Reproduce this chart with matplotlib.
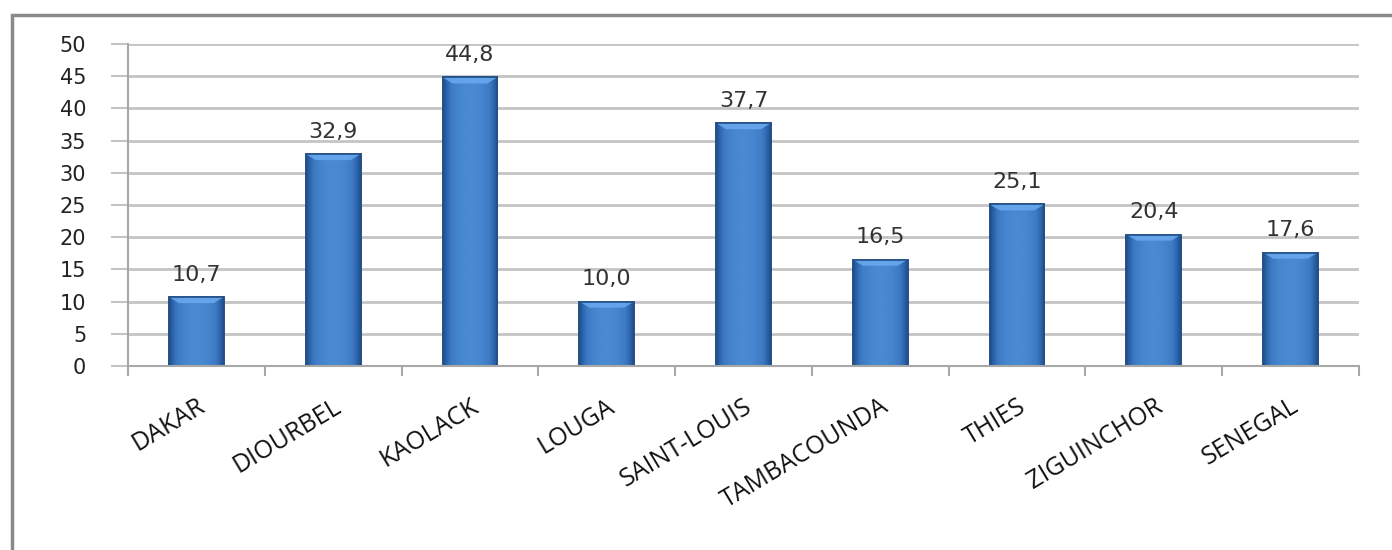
import numpy as np
import matplotlib
matplotlib.use("Agg")
import matplotlib.pyplot as plt
from matplotlib.patches import Rectangle, Polygon
from matplotlib.colors import LinearSegmentedColormap

regions = ["DAKAR", "DIOURBEL", "KAOLACK", "LOUGA", "SAINT-LOUIS",
           "TAMBACOUNDA", "THIES", "ZIGUINCHOR", "SENEGAL"]
values = [10.7, 32.9, 44.8, 10.0, 37.7, 16.5, 25.1, 20.4, 17.6]
value_labels = ["10,7", "32,9", "44,8", "10,0", "37,7", "16,5", "25,1", "20,4", "17,6"]
y_ticks = [0, 5, 10, 15, 20, 25, 30, 35, 40, 45, 50]

W, H = 1392, 550
fig = plt.figure(figsize=(W / 100, H / 100), dpi=100)
fig.patch.set_facecolor("white")

# outer chart frame (runs past the right and bottom edges)
fig.add_artist(Rectangle((12 / W, -0.1), 1.2, 0.1 + (1 - 15 / H),
                         transform=fig.transFigure, fill=False,
                         edgecolor="#8a8a8a", linewidth=2.5, zorder=0))

ax = fig.add_axes([128 / W, 1 - 366 / H, (1359 - 128) / W, (366 - 44) / H])
ax.set_xlim(-0.5, len(regions) - 0.5)
ax.set_ylim(0, 50)

grid_c = "#c4c4c4"
ax.set_yticks(y_ticks)
ax.set_yticklabels([str(v) for v in y_ticks], fontsize=15, color="#222222",
                   family="DejaVu Sans")
ax.tick_params(axis="y", length=12, width=1.5, color=grid_c, pad=18)
ax.yaxis.grid(True, color=grid_c, linewidth=2)
ax.set_axisbelow(True)

x = np.arange(len(regions))
ax.set_xticks(x)
ax.set_xticklabels(regions, rotation=31, ha="right", va="top",
                   rotation_mode="anchor", fontsize=18, family="Open Sans",
                   color="#111111")
ax.tick_params(axis="x", length=0, pad=20)
ax.set_xticks(np.arange(len(regions) + 1) - 0.5, minor=True)
ax.tick_params(axis="x", which="minor", length=7, width=1.5, color="#a8a8a8")

for s in ["top", "right"]:
    ax.spines[s].set_visible(False)
for s in ["left", "bottom"]:
    ax.spines[s].set_color("#a8a8a8")
    ax.spines[s].set_linewidth(1.5)

# bars with a horizontal shading gradient and a bevelled top
bar_w = 0.4
prof = np.linspace(-1, 1, 64)
shade = 1 - np.abs(prof) ** 2.2
cmap = LinearSegmentedColormap.from_list("bar", ["#1e4f8e", "#3b78c2", "#4a8ad2"])
grad = shade[np.newaxis, :]

bars = ax.bar(x, values, width=bar_w, color="#3b78c2", edgecolor="#234f86",
              linewidth=1.2, zorder=2)
px_per_unit_y = (366 - 44) / 50
px_per_unit_x = (1359 - 128) / len(regions)
bevel_h = 6 / px_per_unit_y
bevel_w = 10 / px_per_unit_x
for b, v in zip(bars, values):
    x0 = b.get_x()
    x1 = x0 + b.get_width()
    im = ax.imshow(grad, cmap=cmap, aspect="auto", extent=(x0, x1, 0, v),
                   zorder=2.1, interpolation="bicubic")
    im.set_clip_path(b)
    bevel = Polygon([(x0, v), (x1, v), (x1 - bevel_w, v - bevel_h),
                     (x0 + bevel_w, v - bevel_h)], closed=True,
                    facecolor="#6aaaf0", edgecolor="none", alpha=0.85, zorder=2.2)
    ax.add_patch(bevel)
    ax.add_patch(Rectangle((x0, 0), x1 - x0, v, fill=False,
                           edgecolor="#234f86", linewidth=1.2, zorder=2.3))

ax.set_xlim(-0.5, len(regions) - 0.5)
ax.set_ylim(0, 50)

for xi, v, lab in zip(x, values, value_labels):
    ax.annotate(lab, (xi, v), xytext=(0, 9), textcoords="offset points",
                ha="center", va="bottom", fontsize=16, color="#333333",
                family="DejaVu Sans")

fig.savefig("out.png", dpi=100)
